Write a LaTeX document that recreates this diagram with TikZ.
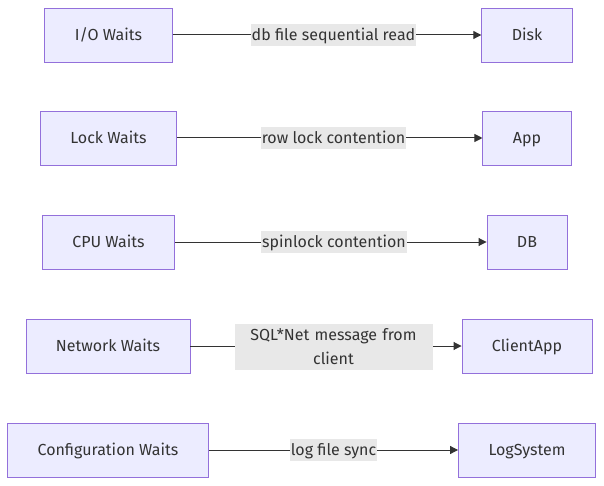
\documentclass[tikz,border=0pt]{standalone}
\usepackage{fontspec}
\setmainfont{Fira Sans}
\usepackage{tikz}
\usetikzlibrary{arrows.meta}
\usetikzlibrary{positioning}
\definecolor{boxfill}{HTML}{ECECFF}
\definecolor{boxline}{HTML}{9370DB}
\definecolor{inkgray}{HTML}{333333}
\definecolor{labelbg}{HTML}{E8E8E8}
\tikzset{
    waitbox/.style={draw=boxline, fill=boxfill, line width=0.9pt,
        minimum height=54pt, inner xsep=30pt, text=inkgray,
        text height=12.5pt, text depth=1.5pt,
        font=\fontsize{16}{24}\selectfont},
    flow/.style={draw=inkgray, line width=1pt, -{Triangle[length=8pt,width=8pt]}},
    elabel/.style={fill=labelbg, text=inkgray, inner xsep=1pt, inner ysep=4pt,
        text height=12.5pt, text depth=1.5pt, align=center,
        font=\fontsize{16}{24}\selectfont}
}
\begin{document}
\begin{tikzpicture}[x=1pt,y=-1pt]
        \useasboundingbox (0,0) rectangle (604,486);
        % sources and targets
        \node[waitbox] (io)      at (108.5,35)  {I/O Waits};
        \node[waitbox] (disk)    at (527,35)    {Disk};
        \node[waitbox] (lock)    at (108.5,138) {Lock Waits};
        \node[waitbox] (app)     at (527,138)   {App};
        \node[waitbox] (cpu)     at (108.5,242) {CPU Waits};
        \node[waitbox] (db)      at (527,242)   {DB};
        \node[waitbox] (network) at (108,346)   {Network Waits};
        \node[waitbox] (client)  at (527,346)   {ClientApp};
        \node[waitbox] (config)  at (108,450)   {Configuration Waits};
        \node[waitbox] (logsys)  at (527,450)   {LogSystem};
        % connectors
        \foreach \a/\b in {io/disk, lock/app, cpu/db, network/client, config/logsys}
            \draw[flow] (\a) -- (\b);
        % connector labels
        \node[elabel] (iolbl)   at (333.5,35)  {db file sequential read};
        \node[elabel] (locklbl) at (333.5,138) {row lock contention};
        \node[elabel] (cpulbl)  at (334,242)   {spinlock contention};
        \node[elabel, text height=, text depth=, inner ysep=4.5pt, text width=196pt]
            (netlbl) at (333.5,347) {SQL*Net message from\\client};
        \node[elabel] (loglbl)  at (333.5,450) {log file sync};
    \end{tikzpicture}
\end{document}
